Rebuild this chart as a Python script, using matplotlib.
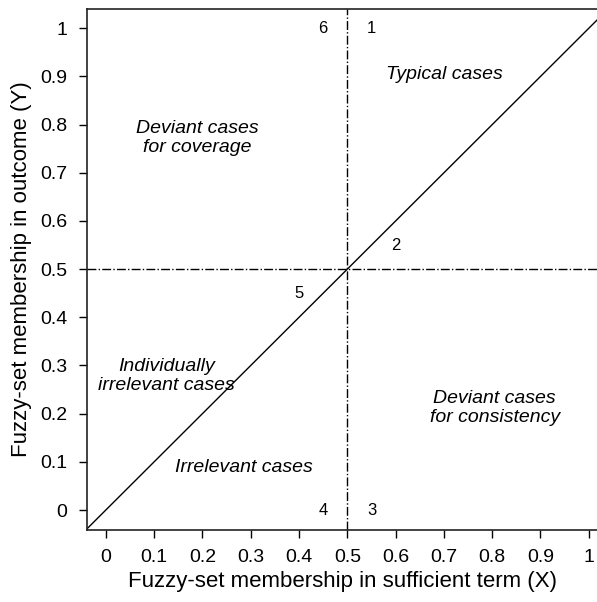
import matplotlib.pyplot as plt
import numpy as np

# thresholds and diagonal
threshold_x = 0.5
threshold_y = 0.5
diag = [-0.1, 1.1]

ticks = [0, 0.1, 0.2, 0.3, 0.4, 0.5, 0.6, 0.7, 0.8, 0.9, 1]
tick_labels = ['0', '0.1', '0.2', '0.3', '0.4', '0.5', '0.6', '0.7', '0.8', '0.9', '1']

# case-type number labels
num_labels = ['1', '2', '3', '4', '5', '6']
num_x = [0.55, 0.60, 0.55, 0.45, 0.40, 0.45]
num_y = [1.00, 0.55, 0.00, 0.00, 0.45, 1.00]

# region labels
region_labels = ['Typical cases', 'Deviant cases\nfor coverage',
                 'Individually\nirrelevant cases', 'Deviant cases\nfor consistency',
                 'Irrelevant cases']
region_x = [0.70, 0.19, 0.125, 0.805, 0.285]
region_y = [0.905, 0.773, 0.279, 0.212, 0.089]

plt.rcParams['font.family'] = ['Liberation Sans', 'DejaVu Sans']

fig = plt.figure(figsize=(5.97, 6.02), dpi=100)
ax = fig.add_axes([87/597, 1 - 530/602, 510/597, 521/602])

ax.plot(diag, diag, color='black', lw=1)
ax.axvline(threshold_x, color='black', lw=1, ls='-.')
ax.axhline(threshold_y, color='black', lw=1, ls='-.')

for t, x, y in zip(num_labels, num_x, num_y):
    ax.text(x, y, t, ha='center', va='center', fontsize=12)

for t, x, y in zip(region_labels, region_x, region_y):
    ax.text(x, y, t, ha='center', va='center', fontsize=14,
            style='italic', linespacing=1.15)

ax.set_xlim(-0.039, 1.017)
ax.set_ylim(-0.0415, 1.04)
ax.set_xticks(ticks)
ax.set_xticklabels(tick_labels)
ax.set_yticks(ticks)
ax.set_yticklabels(tick_labels)
ax.tick_params(direction='out', length=6, width=1, labelsize=14, pad=8)
ax.spines['right'].set_visible(False)
for s in ['left', 'bottom', 'top']:
    ax.spines[s].set_linewidth(1.2)
    ax.spines[s].set_color('#222222')

ax.set_xlabel('Fuzzy-set membership in sufficient term (X)', fontsize=16, labelpad=3)
ax.set_ylabel('Fuzzy-set membership in outcome (Y)', fontsize=16, labelpad=6)

fig.savefig('out.png', dpi=100)
